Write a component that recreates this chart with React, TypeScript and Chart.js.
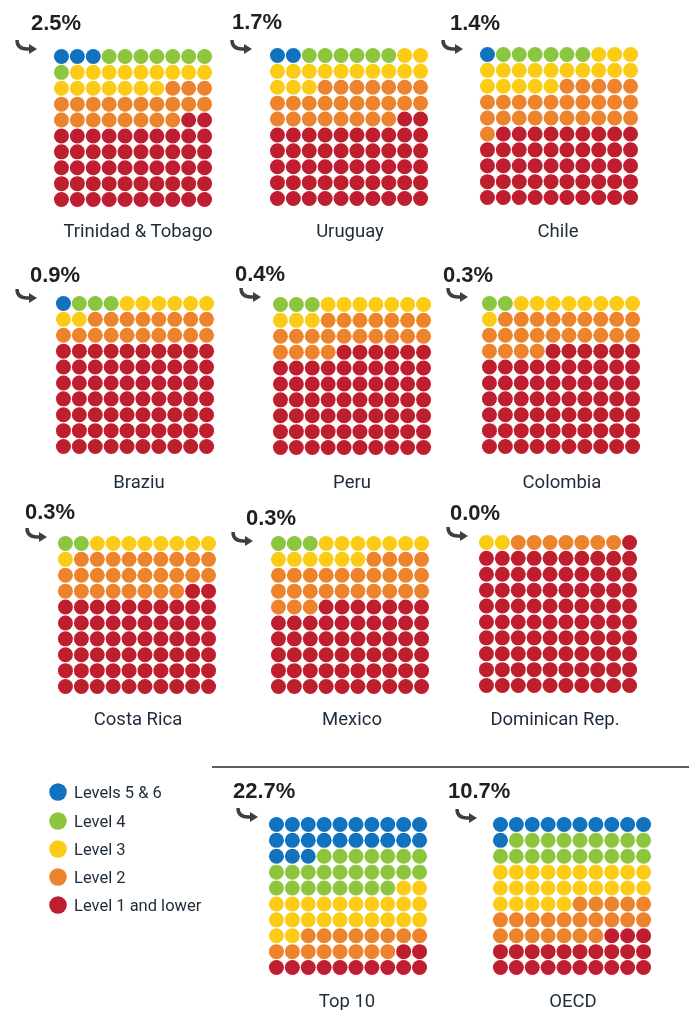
import React, { useEffect, useRef } from "react";
import { Chart, registerables } from "chart.js";

Chart.register(...registerables);

// ---------- data ----------
const LEVELS = ["Levels 5 & 6", "Level 4", "Level 3", "Level 2", "Level 1 and lower"];
const COUNTRIES = [
  "Trinidad & Tobago",
  "Uruguay",
  "Chile",
  "Braziu",
  "Peru",
  "Colombia",
  "Costa Rica",
  "Mexico",
  "Dominican Rep.",
  "Top 10",
  "OECD",
];
const TOP_SHARE = [2.5, 1.7, 1.4, 0.9, 0.4, 0.3, 0.3, 0.3, 0.0, 22.7, 10.7];
// number of dots (out of 100) per level
const LEVEL_5_6 = [3, 2, 1, 1, 0, 0, 0, 0, 0, 23, 11];
const LEVEL_4 = [8, 6, 6, 3, 3, 2, 2, 3, 0, 25, 19];
const LEVEL_3 = [16, 15, 18, 8, 10, 9, 9, 13, 2, 24, 25];
const LEVEL_2 = [21, 25, 26, 18, 21, 23, 27, 27, 7, 16, 22];
const LEVEL_1 = [52, 52, 49, 70, 66, 66, 62, 57, 91, 12, 23];
const SERIES = [LEVEL_5_6, LEVEL_4, LEVEL_3, LEVEL_2, LEVEL_1];

// ---------- styles / layout ----------
const LEVEL_COLORS = ["#1272bd", "#8cc63f", "#fccb16", "#ee832d", "#be1e2e"];
const COLS = 10;
const STEP = 17.4;
const SIZE = STEP * COLS;
const DOT_R = 7.5;
const GRID_ORIGIN: [number, number][] = [
  [55, 50], [271, 49], [481, 48],
  [57, 297], [274, 298], [483, 297],
  [59, 537], [272, 537], [480, 536],
  [270, 818], [494, 818],
];
const PCT_POS: [number, number][] = [
  [31, 30], [232, 29], [450, 30],
  [30, 282], [235, 281], [443, 282],
  [25, 519], [246, 525], [450, 520],
  [233, 798], [448, 798],
];
const ARROW_TIP: [number, number][] = [
  [37, 49], [252, 49], [463, 49],
  [37, 298], [261, 297], [468, 297],
  [47, 537], [253, 541], [468, 536],
  [258, 817], [477, 818],
];
const NAME_POS: [number, number][] = [
  [138, 237], [350, 237], [558, 237],
  [139, 488], [352, 488], [562, 488],
  [138, 725], [352, 725], [555, 725],
  [347, 1007], [573, 1007],
];
const LEGEND_Y = [792, 821, 849, 877, 905];
const TEXT_COLOR = "#1d2b3a";
const LABEL_FONT = "Roboto, 'Liberation Sans', sans-serif";
const PCT_FONT = "'Liberation Sans', Arial, sans-serif";

function Waffle({ index }: { index: number }) {
  const ref = useRef<HTMLCanvasElement | null>(null);
  useEffect(() => {
    if (!ref.current) return;
    let start = 0;
    const datasets = SERIES.map((series, li) => {
      const n = series[index];
      const pts: { x: number; y: number }[] = [];
      for (let k = start; k < start + n; k++) {
        pts.push({ x: k % COLS, y: Math.floor(k / COLS) });
      }
      start += n;
      return {
        label: LEVELS[li],
        data: pts,
        backgroundColor: LEVEL_COLORS[li],
        pointBackgroundColor: LEVEL_COLORS[li],
        borderWidth: 0,
        pointBorderWidth: 0,
        pointRadius: DOT_R,
        pointHoverRadius: DOT_R,
        clip: false as any,
      };
    });
    const chart = new Chart(ref.current, {
      type: "scatter",
      data: { datasets },
      options: {
        animation: false,
        responsive: false,
        maintainAspectRatio: false,
        events: [],
        layout: { padding: 0 },
        plugins: { legend: { display: false }, tooltip: { enabled: false } },
        scales: {
          x: { type: "linear", min: -0.5, max: COLS - 0.5, display: false },
          y: { type: "linear", min: -0.5, max: COLS - 0.5, reverse: true, display: false },
        },
      },
    });
    return () => chart.destroy();
  }, [index]);
  const [cx, cy] = GRID_ORIGIN[index];
  return (
    <canvas
      ref={ref}
      width={SIZE}
      height={SIZE}
      style={{
        position: "absolute",
        left: cx - STEP / 2,
        top: cy - STEP / 2,
        width: SIZE,
        height: SIZE,
      }}
    />
  );
}

function Arrow({ tx, ty }: { tx: number; ty: number }) {
  const d = `M ${tx - 20} ${ty - 9} C ${tx - 20} ${ty - 2}, ${tx - 16} ${ty}, ${tx - 10} ${ty} L ${tx - 6} ${ty}`;
  return (
    <g>
      <path d={d} fill="none" stroke="#3f3f3f" strokeWidth={3.4} />
      <polygon points={`${tx},${ty} ${tx - 8},${ty - 5} ${tx - 8},${ty + 5}`} fill="#3f3f3f" />
    </g>
  );
}

export default function App() {
  return (
    <div
      style={{
        position: "absolute",
        left: 0,
        top: 0,
        width: 689,
        height: 1010,
        background: "#ffffff",
        overflow: "hidden",
      }}
    >
      {COUNTRIES.map((_, i) => (
        <Waffle key={i} index={i} />
      ))}
      <svg
        width={689}
        height={1010}
        style={{ position: "absolute", left: 0, top: 0, pointerEvents: "none" }}
      >
        {COUNTRIES.map((name, i) => (
          <g key={name}>
            <text
              x={PCT_POS[i][0]}
              y={PCT_POS[i][1]}
              fontFamily={PCT_FONT}
              fontWeight={700}
              fontSize={22}
              fill="#231f20"
            >
              {TOP_SHARE[i].toFixed(1) + "%"}
            </text>
            <Arrow tx={ARROW_TIP[i][0]} ty={ARROW_TIP[i][1]} />
            <text
              x={NAME_POS[i][0]}
              y={NAME_POS[i][1]}
              textAnchor="middle"
              fontFamily={LABEL_FONT}
              fontSize={18.5}
              fill={TEXT_COLOR}
            >
              {name}
            </text>
          </g>
        ))}
        <line x1={212} y1={767} x2={689} y2={767} stroke={TEXT_COLOR} strokeWidth={1.5} />
        {LEVELS.map((lv, i) => (
          <g key={lv}>
            <circle cx={58} cy={LEGEND_Y[i]} r={8.8} fill={LEVEL_COLORS[i]} />
            <text
              x={74}
              y={LEGEND_Y[i] + 6}
              fontFamily={LABEL_FONT}
              fontSize={16.5}
              fill={TEXT_COLOR}
            >
              {lv}
            </text>
          </g>
        ))}
      </svg>
    </div>
  );
}
